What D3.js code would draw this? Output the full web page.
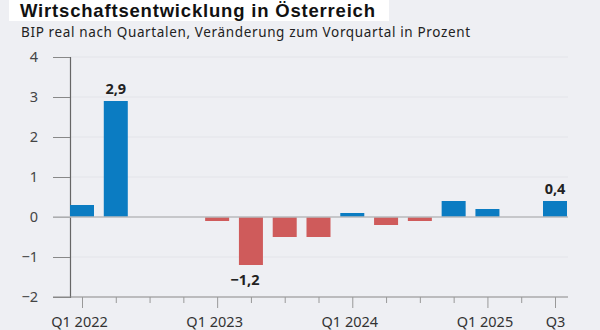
<!DOCTYPE html>
<html><head><meta charset="utf-8">
<script src="https://cdn.jsdelivr.net/npm/d3@7"></script>
<style>
html,body{margin:0;padding:0;background:#eeeff3;}
svg{display:block;font-family:"Noto Sans","Open Sans",sans-serif;}
</style></head>
<body><svg id="c" width="600" height="330"></svg>
<script>
const quarters = ["Q1 2022","Q2 2022","Q3 2022","Q4 2022","Q1 2023","Q2 2023","Q3 2023","Q4 2023","Q1 2024","Q2 2024","Q3 2024","Q4 2024","Q1 2025","Q2 2025","Q3 2025"];
const values = [0.3, 2.9, 0, 0, -0.1, -1.2, -0.5, -0.5, 0.1, -0.2, -0.1, 0.4, 0.2, 0, 0.4];
const xTickLabels = {"Q1 2022":"Q1 2022","Q1 2023":"Q1 2023","Q1 2024":"Q1 2024","Q1 2025":"Q1 2025","Q3 2025":"Q3"};
const yTicks = [-2,-1,0,1,2,3,4];
const labelled = {"Q2 2022":"2,9","Q2 2023":"\u22121,2","Q3 2025":"0,4"};

const svg = d3.select("#c");
const blue = "#0b7cc2", red = "#cf5b5b";

// title
svg.append("rect").attr("x",9).attr("y",0).attr("width",380).attr("height",21).attr("fill","#fff");
svg.append("text").attr("x",20).attr("y",17.3).attr("font-size",18.5).attr("font-weight",700).attr("fill","#111")
  .attr("font-family","Liberation Sans, Arial, sans-serif")
  .attr("textLength",355).attr("lengthAdjust","spacing")
  .text("Wirtschaftsentwicklung in Österreich");
svg.append("text").attr("x",21).attr("y",37).attr("font-size",13.5).attr("fill","#222")
  .attr("textLength",449).attr("lengthAdjust","spacing")
  .text("BIP real nach Quartalen, Veränderung zum Vorquartal in Prozent");

const y = d3.scaleLinear().domain([-2,4]).range([297,57]);
const x = d3.scalePoint().domain(quarters).range([82,555]);
const bw = 24;

// gridlines
svg.append("g").selectAll("line").data(yTicks.filter(d=>d!==0 && d!==-2)).join("line")
  .attr("x1",70).attr("x2",568).attr("y1",d=>y(d)).attr("y2",d=>y(d))
  .attr("stroke","#e3e4e9").attr("stroke-width",1);

// y axis
const yAxis = svg.append("g").attr("transform","translate(70,0)")
  .call(d3.axisLeft(y).tickValues(yTicks).tickSize(17).tickPadding(15)
    .tickFormat(d=> d<0 ? "\u2212"+Math.abs(d) : d));
yAxis.select(".domain").attr("stroke","#666").attr("stroke-width",1.2);
yAxis.selectAll(".tick line").attr("stroke","#888");
yAxis.selectAll(".tick text").attr("font-size",14.5).attr("fill","#444").attr("font-family","Noto Sans, sans-serif");

// bars
svg.append("g").selectAll("rect").data(quarters).join("rect")
  .attr("x",(d)=>x(d)-bw/2).attr("width",bw)
  .attr("y",(d,i)=>y(Math.max(0,values[i])))
  .attr("height",(d,i)=>Math.abs(y(values[i])-y(0)))
  .attr("fill",(d,i)=>values[i]>=0?blue:red);

// zero line
svg.append("line").attr("x1",53).attr("x2",568).attr("y1",y(0)).attr("y2",y(0))
  .attr("stroke","#b9babd").attr("stroke-width",1.5);

// x axis
const xAxis = svg.append("g").attr("transform","translate(0,297)")
  .call(d3.axisBottom(x).tickSize(6).tickPadding(14).tickFormat(d=>xTickLabels[d]||""));
xAxis.select(".domain").attr("d","M53,0H568").attr("stroke","#888").attr("stroke-width",1.2);
xAxis.selectAll(".tick line").attr("stroke","#999").attr("y2",d=>xTickLabels[d]?11:6);
xAxis.selectAll(".tick text").attr("font-size",14.5).attr("fill","#333").attr("font-family","Noto Sans, sans-serif")
  .attr("dx",d=>d==="Q3 2025"?0:-3);

// value labels
svg.append("g").selectAll("text").data(quarters.filter(q=>labelled[q])).join("text")
  .attr("x",d=>x(d)).attr("text-anchor","middle")
  .attr("dx",d=>values[quarters.indexOf(d)]<0?-6:0)
  .attr("y",d=>{const v=values[quarters.indexOf(d)]; return v>=0? y(v)-7 : y(v)+20;})
  .attr("font-size",14.5).attr("font-weight",700).attr("fill","#222")
  .text(d=>labelled[d]);
</script></body></html>
